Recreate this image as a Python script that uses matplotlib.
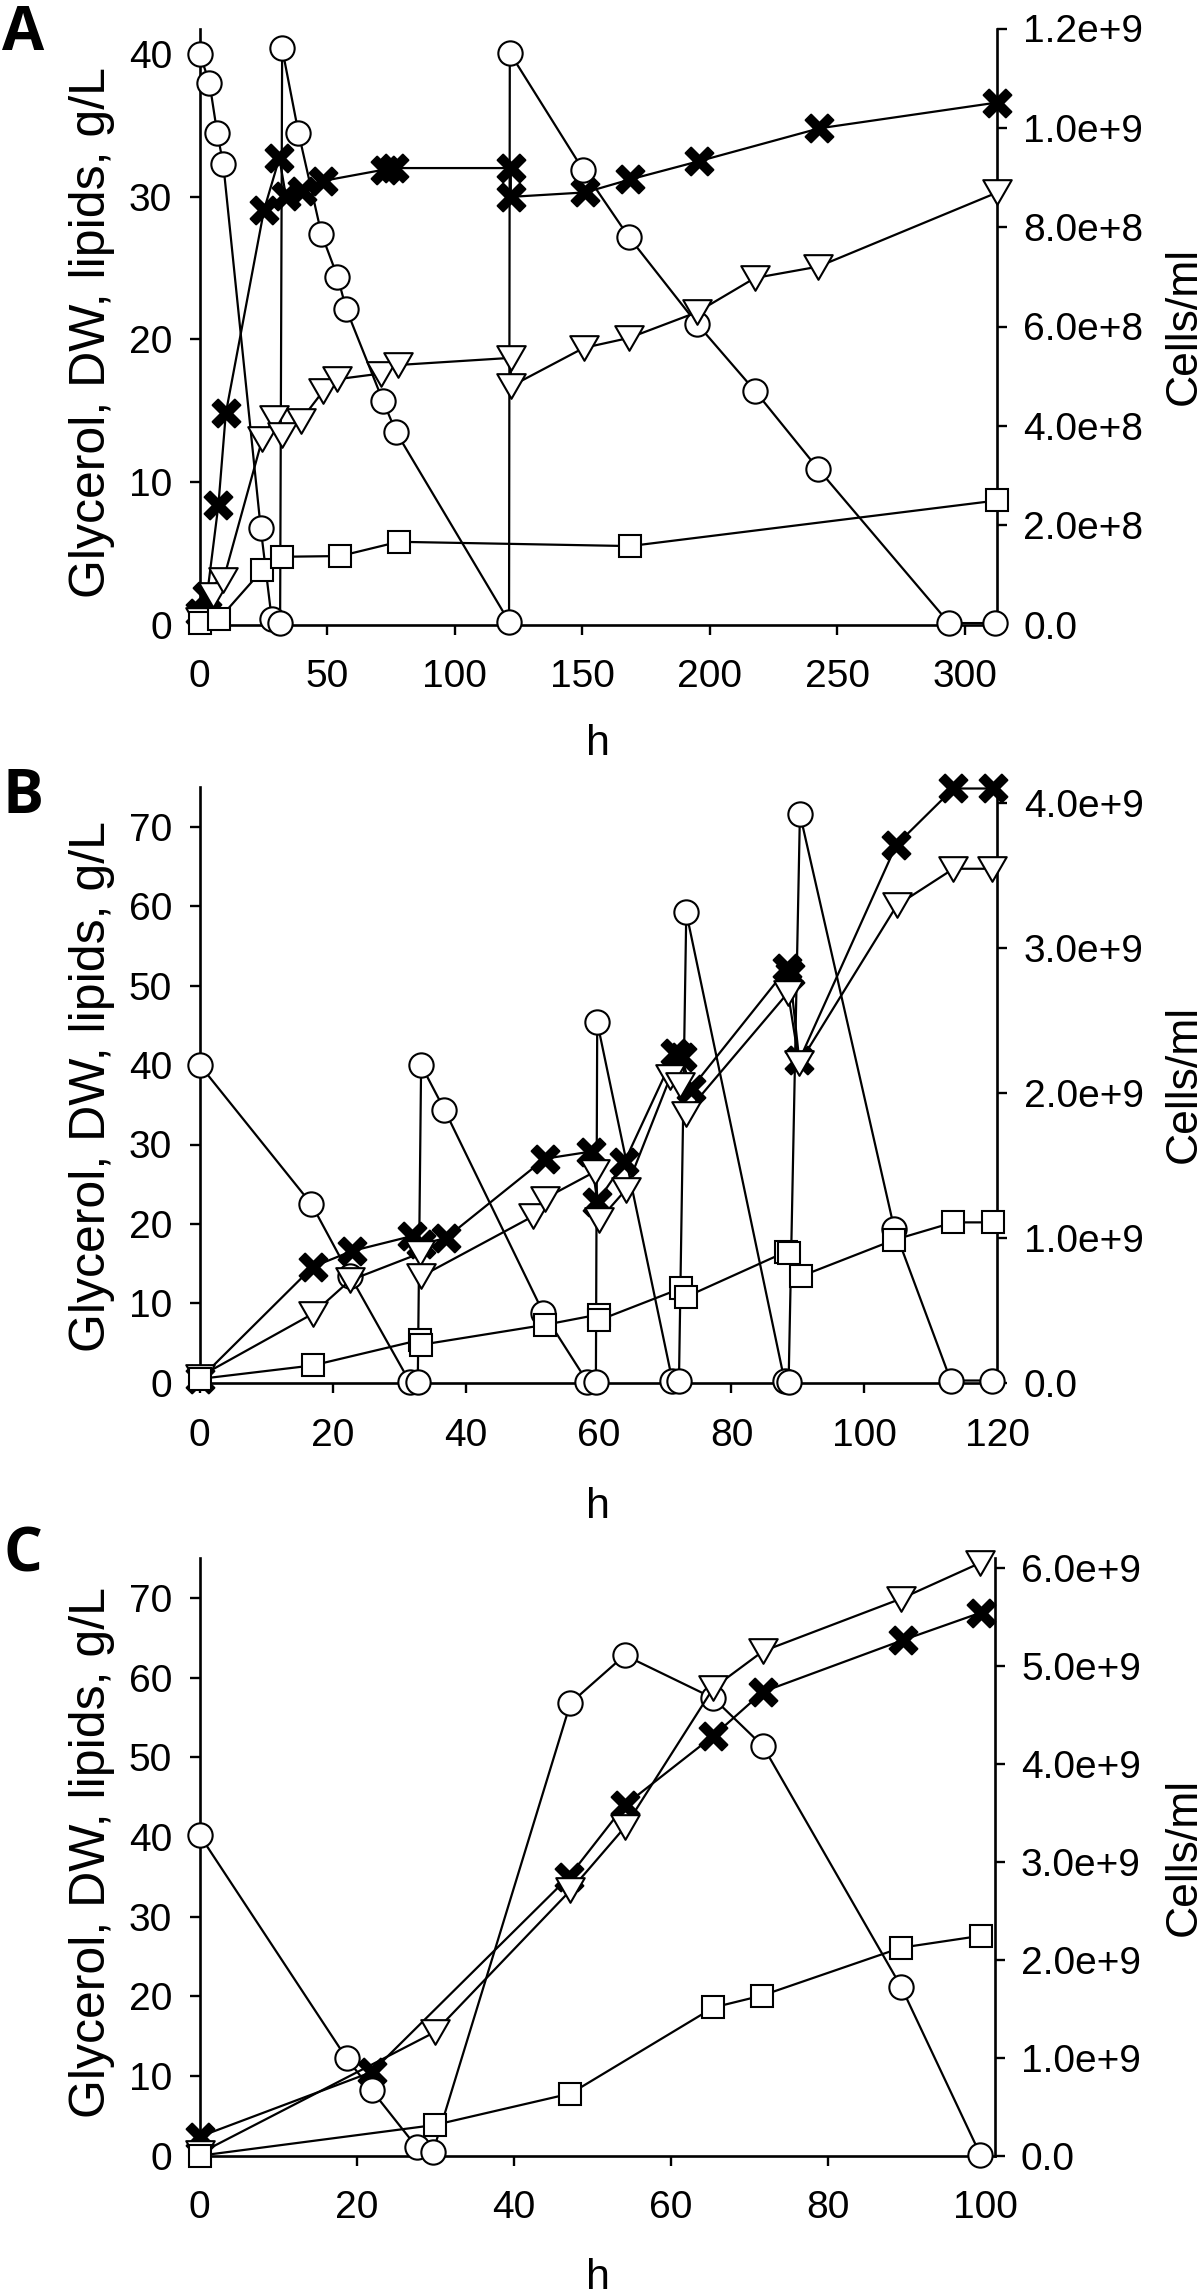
import numpy as np
import matplotlib.pyplot as plt
from matplotlib.path import Path
from matplotlib.ticker import FuncFormatter

plt.rcParams['font.family'] = ['Liberation Sans', 'DejaVu Sans']

# ---- panel A ----
a_gly_h = [0, 3.8, 6.8, 9.2, 23.9, 28.2, 31.5, 32.3, 38.7, 47.7, 54.0, 57.5, 71.8, 77.0,
           121.3, 121.6, 150.3, 168.2, 195.0, 217.7, 242.6, 293.9, 312.0]
a_gly = [40.0, 38.0, 34.5, 32.3, 6.75, 0.4, 0.1, 40.4, 34.5, 27.4, 24.4, 22.1, 15.7, 13.5,
         0.2, 40.1, 31.9, 27.2, 21.1, 16.4, 10.9, 0.1, 0.1]
a_cells_h = [0, 2.8, 7.3, 10.2, 25.2, 31.2, 33.8, 40.2, 48.2, 72.5, 76.3, 122.0, 122.0,
             151.2, 168.7, 195.9, 243.0, 312.8]
a_cells = [0.23e8, 0.57e8, 2.41e8, 4.25e8, 8.35e8, 9.39e8, 8.62e8, 8.73e8, 8.93e8, 9.16e8,
           9.19e8, 9.19e8, 8.61e8, 8.70e8, 8.96e8, 9.33e8, 9.99e8, 1.051e9]
a_dw_h = [0, 5.3, 9.2, 24.5, 29.0, 32.3, 39.5, 48.5, 53.8, 71.0, 77.8, 122.0, 122.0,
          150.6, 168.4, 195.0, 217.7, 242.6, 312.8]
a_dw = [0.3, 2.1, 3.1, 13.0, 14.5, 13.3, 14.3, 16.4, 17.2, 17.6, 18.2, 18.7, 16.7,
        19.4, 20.1, 21.9, 24.3, 25.1, 30.3]
a_lip_h = [0, 7.4, 24.4, 32.1, 55.0, 78.0, 168.7, 312.8]
a_lip = [0.1, 0.36, 3.8, 4.75, 4.8, 5.8, 5.5, 8.7]

# ---- panel B ----
b_gly_h = [0, 16.8, 22.6, 31.6, 32.8, 33.3, 36.8, 51.7, 58.3, 59.6, 59.8, 71.1, 72.1, 73.2,
           88.0, 88.6, 90.3, 104.5, 113.0, 119.2]
b_gly = [40.0, 22.5, 13.5, 0.1, 0.1, 40.0, 34.4, 8.8, 0.15, 0.15, 45.4, 0.3, 0.3, 59.2,
         0.2, 0.15, 71.6, 19.4, 0.3, 0.3]
b_cells_h = [0, 17.0, 22.9, 32.0, 33.3, 37.0, 51.9, 58.8, 59.8, 63.9, 71.5, 72.5, 73.9,
             88.4, 88.8, 90.2, 104.8, 113.4, 119.4]
b_cells = [0.27e8, 8.0e8, 9.09e8, 1.013e9, 9.58e8, 9.97e8, 1.545e9, 1.594e9, 1.249e9,
           1.523e9, 2.273e9, 2.246e9, 2.026e9, 2.859e9, 2.821e9, 2.224e9, 3.708e9,
           4.097e9, 4.097e9]
b_dw_h = [0, 17.0, 22.6, 33.1, 33.3, 50.2, 51.9, 59.5, 60.1, 64.1, 70.8, 72.3, 73.1,
          88.5, 90.2, 104.9, 113.4, 119.2]
b_dw = [0.8, 8.7, 12.9, 16.3, 13.4, 21.0, 23.2, 26.6, 20.5, 24.3, 38.5, 37.5, 33.9,
        49.1, 40.2, 60.1, 64.7, 64.7]
b_lip_h = [0, 17.0, 33.1, 33.3, 51.9, 60.0, 60.1, 72.4, 73.1, 88.2, 88.6, 90.4, 104.5,
           113.4, 119.3]
b_lip = [0.5, 2.2, 5.4, 4.8, 7.3, 8.6, 7.9, 11.9, 10.8, 16.5, 16.3, 13.4, 18.0, 20.2, 20.2]

# ---- panel C ----
c_gly_h = [0, 18.7, 21.9, 27.6, 29.7, 47.2, 54.1, 65.4, 71.7, 89.3, 99.4]
c_gly = [40.2, 12.2, 8.2, 1.1, 0.5, 56.8, 62.8, 57.4, 51.4, 21.2, 0.1]
c_cells_h = [0, 21.9, 47.0, 54.1, 65.4, 71.7, 89.6, 99.5]
c_cells = [1.95e8, 8.55e8, 2.85e9, 3.58e9, 4.29e9, 4.74e9, 5.27e9, 5.55e9]
c_dw_h = [0, 29.9, 47.2, 54.1, 65.4, 71.7, 89.3, 99.4]
c_dw = [0.3, 15.5, 33.3, 41.2, 58.7, 63.3, 69.9, 74.4]
c_lip_h = [0, 29.9, 47.2, 65.4, 71.6, 89.3, 99.5]
c_lip = [0.0, 3.85, 7.8, 18.6, 20.1, 26.1, 27.6]

a_xticks = [0, 50, 100, 150, 200, 250, 300]
a_yticks = [0, 10, 20, 30, 40]
a_rticks = [0, 2e8, 4e8, 6e8, 8e8, 1.0e9, 1.2e9]
bc_yticks = [0, 10, 20, 30, 40, 50, 60, 70]
b_xticks = [0, 20, 40, 60, 80, 100, 120]
b_rticks = [0, 1e9, 2e9, 3e9, 4e9]
c_xticks = [0, 20, 40, 60, 80, 100]
c_rticks = [0, 1e9, 2e9, 3e9, 4e9, 5e9, 6e9]

W, H = 1200, 2295
fig = plt.figure(figsize=(W / 100, H / 100), dpi=100)

# marker shapes
tri = Path([(-1, 0.866), (1, 0.866), (0, -0.866), (-1, 0.866)], closed=True)
a = 0.4
cross = Path([(0, a), (1 - a, 1), (1, 1 - a), (a, 0), (1, a - 1), (1 - a, -1), (0, -a),
              (a - 1, -1), (-1, a - 1), (-a, 0), (-1, 1 - a), (a - 1, 1), (0, a)], closed=True)


def sci(v, pos):
    if v == 0:
        return '0.0'
    e = int(np.floor(np.log10(v) + 1e-9))
    return '%.1fe+%d' % (round(v / 10 ** e, 1), e)


LW = 1.6
MEW = 1.5
TS = 28


def panel(box, xlim, ylim, rlim, xt, yt, rt, gly, cells, dw, lip):
    l, r, t, b = box
    ax = fig.add_axes([l / W, 1 - b / H, (r - l) / W, (b - t) / H])
    tw = ax.twinx()
    ax.set_zorder(tw.get_zorder() + 1)
    ax.patch.set_visible(False)

    kw = dict(color='black', lw=LW, clip_on=False, mec='black', mew=MEW)
    ax.plot(*gly, marker='o', ms=17.5, mfc='white', zorder=3, **kw)
    tw.plot(*cells, marker=cross, ms=20, mfc='black', zorder=3, **kw)
    ax.plot(*dw, marker=tri, ms=20.5, mfc='white', zorder=4, **kw)
    ax.plot(*lip, marker='s', ms=16, mfc='white', zorder=5, **kw)

    ax.set_xlim(*xlim)
    ax.set_ylim(*ylim)
    tw.set_ylim(*rlim)
    ax.set_xticks(xt)
    ax.set_yticks(yt)
    tw.set_yticks(rt)
    tw.yaxis.set_major_formatter(FuncFormatter(sci))

    for s in ['top', 'right']:
        ax.spines[s].set_visible(False)
    for s in ['top', 'left', 'bottom']:
        tw.spines[s].set_visible(False)
    for sp in [ax.spines['left'], ax.spines['bottom'], tw.spines['right']]:
        sp.set_linewidth(1.9)

    ax.tick_params(axis='x', direction='out', length=7, width=1.7, labelsize=TS, pad=18)
    ax.tick_params(axis='y', direction='out', length=7, width=1.7, labelsize=TS, pad=13)
    tw.tick_params(axis='y', direction='out', length=7, width=1.7, labelsize=TS, pad=12)
    return ax


panel((199.8, 997.0, 28.5, 624.5), (0, 312.7), (0, 41.8), (0, 1.2e9),
      a_xticks, a_yticks, a_rticks,
      (a_gly_h, a_gly), (a_cells_h, a_cells), (a_dw_h, a_dw), (a_lip_h, a_lip))
panel((199.8, 997.3, 786.9, 1382.9), (0, 119.8), (0, 75), (0, 4.108e9),
      b_xticks, bc_yticks, b_rticks,
      (b_gly_h, b_gly), (b_cells_h, b_cells), (b_dw_h, b_dw), (b_lip_h, b_lip))
panel((199.8, 994.6, 1558.0, 2155.7), (0, 101.2), (0, 75), (0, 6.107e9),
      c_xticks, bc_yticks, c_rticks,
      (c_gly_h, c_gly), (c_cells_h, c_cells), (c_dw_h, c_dw), (c_lip_h, c_lip))

ylab = 'Glycerol, DW, lipids, g/L'
for letter, ly, yc, rc, hb in [('A', 50, 333, 326, 755),
                               ('B', 813, 1086, 1084, 1518),
                               ('C', 1572, 1853, 1857, 2289)]:
    fig.text(23 / W, 1 - ly / H, letter, family=['Open Sans', 'DejaVu Sans'],
             weight='bold', fontsize=44, ha='center', va='baseline')
    fig.text(92 / W, 1 - yc / H, ylab, rotation=90, fontsize=36, ha='center', va='center')
    fig.text(1184 / W, 1 - rc / H, 'Cells/ml', rotation=90, fontsize=32,
             ha='center', va='center')
    fig.text(598 / W, 1 - hb / H, 'h', fontsize=31, ha='center', va='baseline')

fig.savefig('out.png', dpi=100)
